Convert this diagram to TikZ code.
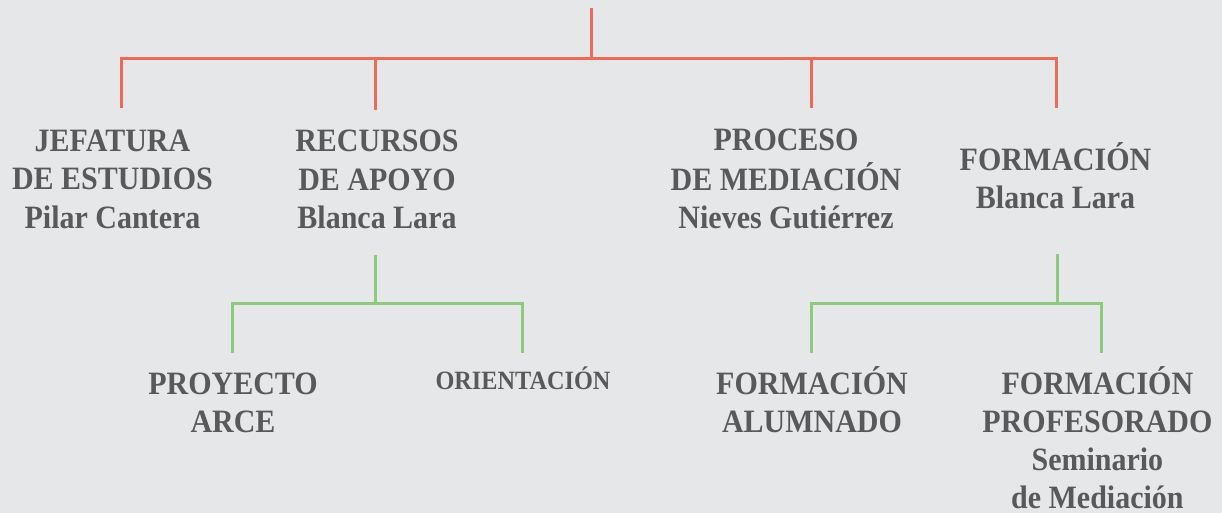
\documentclass[tikz,border=0pt]{standalone}
\usepackage{fontspec}
\setmainfont{Liberation Serif}[FakeStretch=0.92]
\definecolor{bgc}{HTML}{E6E7E8}
\definecolor{redc}{HTML}{EF6A56}
\definecolor{greenc}{HTML}{8BCB7B}
\definecolor{txtc}{HTML}{58595B}
\begin{document}
\begin{tikzpicture}[x=1pt,y=-1pt,
  lbl/.style={anchor=base,inner sep=0pt,text=txtc,font=\fontsize{32.6}{38.3}\selectfont\bfseries},
  lblsmall/.style={lbl,font=\fontsize{26.4}{30}\selectfont\bfseries},
  redline/.style={draw=redc,line width=3pt,line join=miter},
  greenline/.style={draw=greenc,line width=3pt,line join=miter}]
\fill[bgc] (0,0) rectangle (1222,513);
\useasboundingbox (0,0) rectangle (1222,513);

% labels
\node[lbl] (jef) at (112.5,151.7) {\begin{tabular}[t]{@{}c@{}}JEFATURA\\DE ESTUDIOS\\Pilar Cantera\end{tabular}};
\node[lbl] (rec) at (377,152) {\begin{tabular}[t]{@{}c@{}}RECURSOS\\DE APOYO\\Blanca Lara\end{tabular}};
\node[lbl] (pro) at (786,151) {\begin{tabular}[t]{@{}c@{}}PROCESO\\DE MEDIACIÓN\\Nieves Gutiérrez\end{tabular}};
\node[lbl] (for) at (1055.5,170.7) {\begin{tabular}[t]{@{}c@{}}FORMACIÓN\\Blanca Lara\end{tabular}};
\node[lbl] (arce) at (233,394) {\begin{tabular}[t]{@{}c@{}}PROYECTO\\ARCE\end{tabular}};
\node[lblsmall] (ori) at (523,389.3) {ORIENTACIÓN};
\node[lbl] (alu) at (812,394) {\begin{tabular}[t]{@{}c@{}}FORMACIÓN\\ALUMNADO\end{tabular}};
\node[lbl] (prof) at (1097.4,394) {\begin{tabular}[t]{@{}c@{}}FORMACIÓN\\PROFESORADO\\Seminario\\de Mediación\end{tabular}};

% red tree
\coordinate (top) at (591,8);
\coordinate (rbus) at (591,59);
\coordinate (r1) at (121,108);
\coordinate (r2) at (375,110);
\coordinate (r3) at (811,108);
\coordinate (r4) at (1056,108);
\draw[redline] (top) -- (rbus);
\draw[redline] (r1) -- (r1|-rbus) -- (r4|-rbus) -- (r4);
\draw[redline] (r2|-rbus) -- (r2);
\draw[redline] (r3|-rbus) -- (r3);

% green tree left
\coordinate (gl) at (375.5,255);
\coordinate (glbus) at (375.5,303.3);
\coordinate (gl1) at (232,352.7);
\coordinate (gl2) at (522,352.7);
\draw[greenline] (gl) -- (glbus);
\draw[greenline] (gl1) -- (gl1|-glbus) -- (gl2|-glbus) -- (gl2);

% green tree right
\coordinate (gr) at (1057,254);
\coordinate (grbus) at (1057,303.3);
\coordinate (gr1) at (811.4,352.7);
\coordinate (gr2) at (1101,352.7);
\draw[greenline] (gr) -- (grbus);
\draw[greenline] (gr1) -- (gr1|-grbus) -- (gr2|-grbus) -- (gr2);
\end{tikzpicture}
\end{document}
